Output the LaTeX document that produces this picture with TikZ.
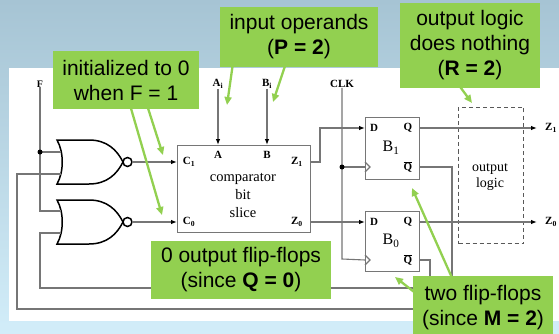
\documentclass[tikz,border=0pt]{standalone}
\usepackage{fontspec}
\setmainfont{Liberation Serif}
\newfontfamily\arialfont{Liberation Sans}
\usetikzlibrary{arrows.meta}
\definecolor{callgreen}{RGB}{146,208,80}
\definecolor{wiregray}{RGB}{118,118,118}
\definecolor{bgtop}{RGB}{166,196,212}
\definecolor{bgbot}{RGB}{210,237,249}
\tikzset{
  wire/.style={draw=wiregray, line width=1.1pt},
  gateline/.style={draw=black, line width=1.5pt},
  inarrow/.style={-{Latex[length=6pt,width=4.5pt,black]}},
  pin/.style={font=\fontsize{11}{12}\selectfont\bfseries, inner sep=0pt},
  bodytext/.style={font=\fontsize{14.5}{18}\selectfont, align=center, inner sep=0pt},
  boxnode/.style={draw=wiregray, line width=1.1pt, inner sep=0pt, anchor=north west},
  callout/.style={fill=callgreen, font=\arialfont\fontsize{21}{25}\selectfont, align=center, inner sep=0pt},
  callarrow/.style={draw=callgreen, line width=2.3pt, -{Triangle[length=8pt,width=7pt]}},
  jdot/.style={circle, fill=black, inner sep=0pt, minimum size=5pt},
  norgate/.pic={
    \draw[gateline] (0,-22) .. controls (7,-10) and (7,10) .. (0,22) -- (32,22)
      .. controls (50,22) and (60,12) .. (66,0)
      .. controls (60,-12) and (50,-22) .. (32,-22) -- cycle;
    \draw[gateline] (70.5,0) circle[radius=4.5pt];
    \coordinate (-out) at (75,0);
  }
}
\begin{document}
\begin{tikzpicture}[x=1pt,y=-1pt]
\useasboundingbox (0,0) rectangle (559,334);
\shade[top color=bgtop, bottom color=bgbot] (0,0) rectangle (559,334);
\fill[white] (9,68) rectangle (559,321);

% gates
\pic (g1) at (57,162) {norgate};
\pic (g2) at (57,222) {norgate};

% boxes
\node[boxnode, minimum width=133pt, minimum height=87pt] (cmp) at (177,145) {};
\node[boxnode, minimum width=54pt, minimum height=62pt] (b1) at (365,117) {};
\node[boxnode, minimum width=54pt, minimum height=60pt] (b0) at (365,211) {};
\node[boxnode, draw=black!65, dash pattern=on 4pt off 3pt, line width=1pt, minimum width=65pt, minimum height=136pt] (ol) at (458,107) {};

% top labels
\node[pin, font=\fontsize{10}{12}\selectfont\bfseries] (F) at (40,84) {F};
\node[pin] (Ai) at (218,84) {A\textsubscript{i}};
\node[pin] (Bi) at (267,84) {B\textsubscript{i}};
\node[pin] (clk) at (342,84) {CLK};

% pin labels
\node[pin] (pA) at (218,155) {A};
\node[pin] (pB) at (267,155) {B};
\node[pin] (pC1) at (189,162) {C\textsubscript{1}};
\node[pin] (pC0) at (189,222) {C\textsubscript{0}};
\node[pin] (pZ1) at (297,162) {Z\textsubscript{1}};
\node[pin] (pZ0) at (297,222) {Z\textsubscript{0}};
\node[bodytext] (cmptext) at (243,195) {comparator\\bit\\slice};

\node[pin] (d1) at (374,128) {D};
\node[pin] (q1) at (408,128) {Q};
\node[pin] (qb1) at (408,167) {$\overline{\mbox{Q}}$};
\node[bodytext, font=\fontsize{16}{18}\selectfont] (n1) at (391,148) {B\textsubscript{1}};
\node[pin] (d0) at (374,222) {D};
\node[pin] (q0) at (408,222) {Q};
\node[pin] (qb0) at (408,260) {$\overline{\mbox{Q}}$};
\node[bodytext, font=\fontsize{16}{18}\selectfont] (n0) at (391,241) {B\textsubscript{0}};
\node[bodytext, font=\fontsize{14}{16}\selectfont] (oltext) at (490,177) {output\\logic};

\node[pin] (z1out) at (551,128) {Z\textsubscript{1}};
\node[pin] (z0out) at (551,222) {Z\textsubscript{0}};

% wires
\draw[wire] (F.south) -- (40,211) -- (61,211);
\draw[wire] (40,152) -- (61,152);
\node[jdot] (jf) at (40,152) {};
\draw[wire] (61,174) -- (17,174) -- (17,309) -- (452,309) -- (452,167) -- (b1.east |- qb1);
\draw[wire] (61,233) -- (40,233) -- (40,288) -- (430,288) -- (430,260) -- (b0.east |- qb0);
\draw[wire, inarrow] (g1-out) -- (cmp.west |- g1-out);
\draw[wire, inarrow] (g2-out) -- (cmp.west |- g2-out);
\draw[wire, inarrow] (Ai.south) -- (cmp.north -| Ai);
\draw[wire, inarrow] (Bi.south) -- (cmp.north -| Bi);
\draw[wire, inarrow] (cmp.east |- pZ1) -- (320,162) -- (320,128) -- (b1.west |- d1);
\draw[wire, inarrow] (cmp.east |- pZ0) -- (b0.west |- d0);
\draw[wire] (clk.south) -- (342,259) -- (b0.west |- qb0);
\draw[wire] (342,167) -- (b1.west |- qb1);
\node[jdot] (jc) at (342,167) {};
\draw[wire] (365,162) -- (370,167) -- (365,172);
\draw[wire] (365,255) -- (370,260) -- (365,265);
\draw[wire, inarrow] (b1.east |- q1) -- (537,128);
\draw[wire, inarrow] (b0.east |- q0) -- (537,222);

% callout arrows
\coordinate (t1a) at (163,155);
\coordinate (t1b) at (162,215);
\coordinate (t2a) at (227,105);
\coordinate (t2b) at (273,102);
\coordinate (t3) at (472,103);
\coordinate (t5a) at (412,188);
\coordinate (t5b) at (395,277);
\draw[callarrow] (147,105) -- (t1a);
\draw[callarrow] (130,105) -- (t1b);
\draw[callarrow] (233,63) -- (t2a);
\draw[callarrow] (286,63) -- (t2b);
\draw[callarrow] (458,84) -- (t3);
\draw[callarrow] (453,280) -- (t5a);
\draw[callarrow] (418,295) -- (t5b);

% callouts
\node[callout, minimum width=146pt, minimum height=58pt] (c1) at (126,80) {initialized to 0\\when F = 1};
\node[callout, minimum width=158pt, minimum height=60pt] (c2) at (299,37) {input operands\\(\textbf{P = 2})};
\node[callout, minimum width=140pt, minimum height=85pt] (c3) at (470,45.5) {output logic\\does nothing\\(\textbf{R = 2})};
\node[callout, minimum width=180pt, minimum height=58pt] (c4) at (241,270) {0 output flip-flops\\(since \textbf{Q = 0})};
\node[callout, minimum width=140pt, minimum height=64pt] (c5) at (483,308) {two flip-flops\\(since \textbf{M = 2})};
\end{tikzpicture}
\end{document}
